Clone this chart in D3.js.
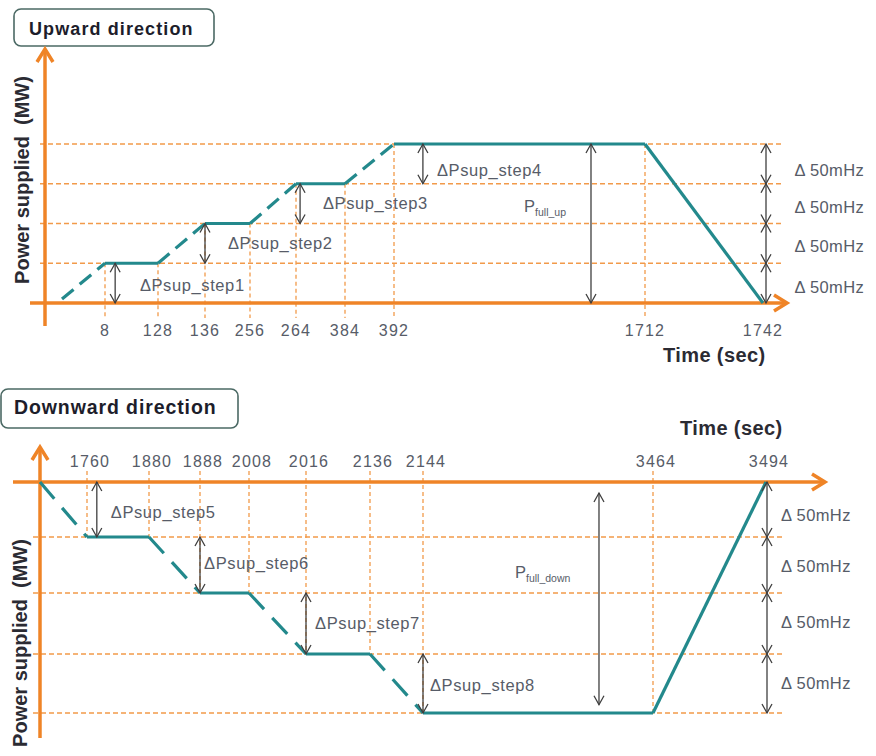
<!DOCTYPE html>
<html>
<head>
<meta charset="utf-8">
<script src="https://cdn.jsdelivr.net/npm/d3@7/dist/d3.min.js"></script>
<style>
  html, body { margin: 0; padding: 0; background: #ffffff; }
  svg { display: block; font-family: "Liberation Sans", Arial, sans-serif; }
  .pre { white-space: pre; }
</style>
</head>
<body>
<svg id="chart" width="876" height="756"></svg>
<script>
// ---------------- DATA ----------------
// Upward direction profile (time in sec, power level in steps)
const upTimes  = [0, 8, 128, 136, 256, 264, 384, 392, 1712, 1742];
const upLevels = [0, 1, 1, 2, 2, 3, 3, 4, 4, 0];
const upTicks  = [8, 128, 136, 256, 264, 384, 392, 1712, 1742];
const upStepLabels = ["ΔPsup_step1", "ΔPsup_step2", "ΔPsup_step3", "ΔPsup_step4"];
const upStepArrowTimes = [31, 136, 274, 544];
const upStepLabelTimes = [87, 197, 330, 618];
const upStepLabelLevels = [0.45, 1.5, 2.5, 3.35];
const upFullArrowTime = 1428;
const upFullLabel = { time: 1076, level: 2.42, main: "P", sub: "full_up" };

// Downward direction profile
const downTimes  = [1742, 1760, 1880, 1888, 2008, 2016, 2136, 2144, 3464, 3494];
const downLevels = [0, -1, -1, -2, -2, -3, -3, -4, -4, 0];
const downTicks  = [1760, 1880, 1888, 2008, 2016, 2136, 2144, 3464, 3494];
const downStepLabels = ["ΔPsup_step5", "ΔPsup_step6", "ΔPsup_step7", "ΔPsup_step8"];
const downStepArrowTimes = [1779, 1888, 2016, 2144];
const downStepLabelTimes = [1806, 1898, 2033, 2184];
const downStepLabelLevels = [-0.55, -1.46, -2.49, -3.53];
const downFullArrow = { time: 3154, from: -0.2, to: -3.86 };
const downFullLabel = { time: 2672, level: -1.64, main: "P", sub: "full_down" };

// Frequency step labels (right side)
const freqLabel = "Δ 50mHz";
const upFreqLevels = [3.35, 2.4, 1.43, 0.4];
const downFreqLevels = [-0.6, -1.52, -2.48, -3.49];

const titles = ["Upward direction", "Downward direction"];
const xTitle = "Time (sec)";
const yTitle = "Power supplied  (MW)";

// ---------------- STYLE ----------------
const ORANGE = "#ef8427";
const GRID = "#f29a4a";
const TEAL = "#23898c";
const ARROW = "#3f3f3f";
const TXT = "#575c68";
const DARK = "#2b2b33";

const svg = d3.select("#chart");

// Scales (schematic, piecewise-linear time axis)
const xUp = d3.scaleLinear()
  .domain(upTimes)
  .range([62, 105, 158, 205, 250, 296, 345, 394, 645, 763]);
const yUp = d3.scaleLinear().domain([0, 4]).range([303, 144]);

const xDown = d3.scaleLinear()
  .domain(downTimes)
  .range([40, 87, 149, 200, 249, 306, 370, 423, 653, 766]);
const yDown = d3.scaleLinear().domain([0, -1, -2, -3, -4]).range([482, 537, 593, 654, 713]);

// ---------- helpers ----------
function titleBox(x, y, w, h, text, size, ls, tx, ty) {
  svg.append("rect").attr("x", x).attr("y", y).attr("width", w).attr("height", h)
    .attr("rx", 7).attr("fill", "#fff").attr("stroke", "#4b6964").attr("stroke-width", 1.6);
  svg.append("text").attr("x", tx).attr("y", ty).text(text)
    .attr("font-size", size).attr("font-weight", "bold").attr("letter-spacing", ls)
    .attr("fill", "#1d1d2b");
}
function dblArrow(g, x, y1, y2) {
  g.append("line").attr("x1", x).attr("x2", x).attr("y1", y1).attr("y2", y2)
    .attr("stroke", ARROW).attr("stroke-width", 1.3);
  const d = y2 > y1 ? 1 : -1;
  g.append("path").attr("d", `M${x-5},${y1+9*d} L${x},${y1} L${x+5},${y1+9*d}`)
    .attr("fill", "none").attr("stroke", ARROW).attr("stroke-width", 1.3);
  g.append("path").attr("d", `M${x-5},${y2-9*d} L${x},${y2} L${x+5},${y2-9*d}`)
    .attr("fill", "none").attr("stroke", ARROW).attr("stroke-width", 1.3);
}
function stepLabel(g, x, y, text) {
  g.append("text").attr("x", x).attr("y", y).attr("dy", "0.35em").text(text)
    .attr("font-size", 16.5).attr("letter-spacing", 0.6).attr("fill", TXT);
}
function subLabel(g, x, y, lab) {
  const t = g.append("text").attr("x", x).attr("y", y).attr("dy", "0.35em")
    .attr("fill", TXT);
  t.append("tspan").text(lab.main).attr("font-size", 16.5);
  t.append("tspan").text(lab.sub).attr("font-size", 10.5).attr("dy", 4);
}
function segments(times, levels) {
  const s = [];
  for (let i = 0; i < times.length - 1; i++) {
    s.push({ t0: times[i], l0: levels[i], t1: times[i+1], l1: levels[i+1],
             ramp: Math.abs(levels[i+1] - levels[i]) === 1 });
  }
  return s;
}

// ================= UPWARD =================
titleBox(14, 9, 200, 37, titles[0], 18, 1.1, 29, 35);
const gU = svg.append("g");

// horizontal dashed level lines
gU.selectAll("line.hl").data([1, 2, 3, 4]).join("line")
  .attr("x1", 40).attr("x2", 783)
  .attr("y1", d => yUp(d)).attr("y2", d => yUp(d))
  .attr("stroke", GRID).attr("stroke-width", 1.3).attr("stroke-dasharray", "5,3");

// vertical dashed lines at ticks
const levelAt = (times, levels, t) => levels[times.indexOf(t)];
gU.selectAll("line.vl").data(upTicks.filter(t => levelAt(upTimes, upLevels, t) !== 0)).join("line")
  .attr("x1", d => xUp(d)).attr("x2", d => xUp(d))
  .attr("y1", d => yUp(levelAt(upTimes, upLevels, d))).attr("y2", 318)
  .attr("stroke", GRID).attr("stroke-width", 1.3).attr("stroke-dasharray", "4,3");

// axes
gU.append("line").attr("x1", 30).attr("x2", 785).attr("y1", yUp(0)).attr("y2", yUp(0))
  .attr("stroke", ORANGE).attr("stroke-width", 3.5);
gU.append("path").attr("d", `M774,${yUp(0)-8} L787,${yUp(0)} L774,${yUp(0)+8}`)
  .attr("fill", "none").attr("stroke", ORANGE).attr("stroke-width", 3.5);
gU.append("line").attr("x1", 45).attr("x2", 45).attr("y1", 326).attr("y2", 51)
  .attr("stroke", ORANGE).attr("stroke-width", 3.5);
gU.append("path").attr("d", `M37,62 L45,49 L53,62`)
  .attr("fill", "none").attr("stroke", ORANGE).attr("stroke-width", 3.5);

// tick labels
gU.selectAll("text.tick").data(upTicks).join("text")
  .attr("x", d => xUp(d)).attr("y", 336).attr("text-anchor", "middle")
  .text(d => d).attr("font-size", 16).attr("letter-spacing", 1.2).attr("fill", TXT);

// profile
gU.selectAll("line.seg").data(segments(upTimes, upLevels)).join("line")
  .attr("x1", d => xUp(d.t0)).attr("y1", d => yUp(d.l0) - (d.t0 === 0 ? 4 : 0))
  .attr("x2", d => xUp(d.t1)).attr("y2", d => yUp(d.l1))
  .attr("stroke", TEAL).attr("stroke-width", 3.2)
  .attr("stroke-dasharray", d => d.ramp ? "15,8" : null);

// step arrows and labels
upStepArrowTimes.forEach((t, i) => dblArrow(gU, xUp(t), yUp(i + 1), yUp(i)));
upStepLabels.forEach((s, i) => stepLabel(gU, xUp(upStepLabelTimes[i]), yUp(upStepLabelLevels[i]), s));
dblArrow(gU, xUp(upFullArrowTime), yUp(4), yUp(0));
subLabel(gU, xUp(upFullLabel.time), yUp(upFullLabel.level), upFullLabel);

// right-side frequency arrows
[0, 1, 2, 3].forEach(i => dblArrow(gU, xUp(1742) + 3, yUp(i + 1), yUp(i)));
upFreqLevels.forEach(l => gU.append("text").attr("x", xUp(1750)).attr("y", yUp(l)).attr("dy", "0.35em")
  .text(freqLabel).attr("font-size", 16.5).attr("letter-spacing", 0.4).attr("fill", TXT));

// axis titles
gU.append("text").attr("x", 663).attr("y", 362).text(xTitle)
  .attr("font-size", 20).attr("font-weight", "bold").attr("letter-spacing", 0.4).attr("fill", DARK);
gU.append("text").attr("class", "pre").attr("transform", "translate(29,180) rotate(-90)").attr("text-anchor", "middle")
  .text(yTitle).attr("font-size", 20).attr("font-weight", "bold").attr("fill", DARK);

// ================= DOWNWARD =================
titleBox(1, 389, 237, 39, titles[1], 19.5, 0.9, 14, 414);
const gD = svg.append("g");

gD.selectAll("line.hl").data([-1, -2, -3, -4]).join("line")
  .attr("x1", 33).attr("x2", 782)
  .attr("y1", d => yDown(d)).attr("y2", d => yDown(d))
  .attr("stroke", GRID).attr("stroke-width", 1.3).attr("stroke-dasharray", "5,3");

gD.selectAll("line.vl").data(downTicks.filter(t => levelAt(downTimes, downLevels, t) !== 0)).join("line")
  .attr("x1", d => xDown(d)).attr("x2", d => xDown(d))
  .attr("y1", 471).attr("y2", d => yDown(levelAt(downTimes, downLevels, d)))
  .attr("stroke", GRID).attr("stroke-width", 1.3).attr("stroke-dasharray", "4,3");

gD.append("line").attr("x1", 13).attr("x2", 823).attr("y1", yDown(0)).attr("y2", yDown(0))
  .attr("stroke", ORANGE).attr("stroke-width", 3.5);
gD.append("path").attr("d", `M812,${yDown(0)-8} L825,${yDown(0)} L812,${yDown(0)+8}`)
  .attr("fill", "none").attr("stroke", ORANGE).attr("stroke-width", 3.5);
gD.append("line").attr("x1", 40).attr("x2", 40).attr("y1", 738).attr("y2", 449)
  .attr("stroke", ORANGE).attr("stroke-width", 3.5);
gD.append("path").attr("d", `M32,460 L40,447 L48,460`)
  .attr("fill", "none").attr("stroke", ORANGE).attr("stroke-width", 3.5);

gD.selectAll("text.tick").data(downTicks).join("text")
  .attr("x", d => xDown(d) + 3).attr("y", 467).attr("text-anchor", "middle")
  .text(d => d).attr("font-size", 16).attr("letter-spacing", 1.2).attr("fill", TXT);

gD.selectAll("line.seg").data(segments(downTimes, downLevels)).join("line")
  .attr("x1", d => xDown(d.t0)).attr("y1", d => yDown(d.l0))
  .attr("x2", d => xDown(d.t1)).attr("y2", d => yDown(d.l1))
  .attr("stroke", TEAL).attr("stroke-width", 3.2)
  .attr("stroke-dasharray", d => d.ramp ? "22,12" : null);

downStepArrowTimes.forEach((t, i) => dblArrow(gD, xDown(t), yDown(-i), yDown(-i - 1)));
downStepLabels.forEach((s, i) => stepLabel(gD, xDown(downStepLabelTimes[i]), yDown(downStepLabelLevels[i]), s));
dblArrow(gD, xDown(downFullArrow.time), yDown(downFullArrow.from), yDown(downFullArrow.to));
subLabel(gD, xDown(downFullLabel.time), yDown(downFullLabel.level), downFullLabel);

[0, 1, 2, 3].forEach(i => dblArrow(gD, xDown(3494) + 1, yDown(-i), yDown(-i - 1)));
downFreqLevels.forEach(l => gD.append("text").attr("x", xDown(3498)).attr("y", yDown(l)).attr("dy", "0.35em")
  .text(freqLabel).attr("font-size", 16.5).attr("letter-spacing", 0.4).attr("fill", TXT));

gD.append("text").attr("x", 680).attr("y", 435).text(xTitle)
  .attr("font-size", 20).attr("font-weight", "bold").attr("letter-spacing", 0.4).attr("fill", DARK);
gD.append("text").attr("class", "pre").attr("transform", "translate(27,643) rotate(-90)").attr("text-anchor", "middle")
  .text(yTitle).attr("font-size", 20).attr("font-weight", "bold").attr("fill", DARK);
</script>
</body>
</html>
